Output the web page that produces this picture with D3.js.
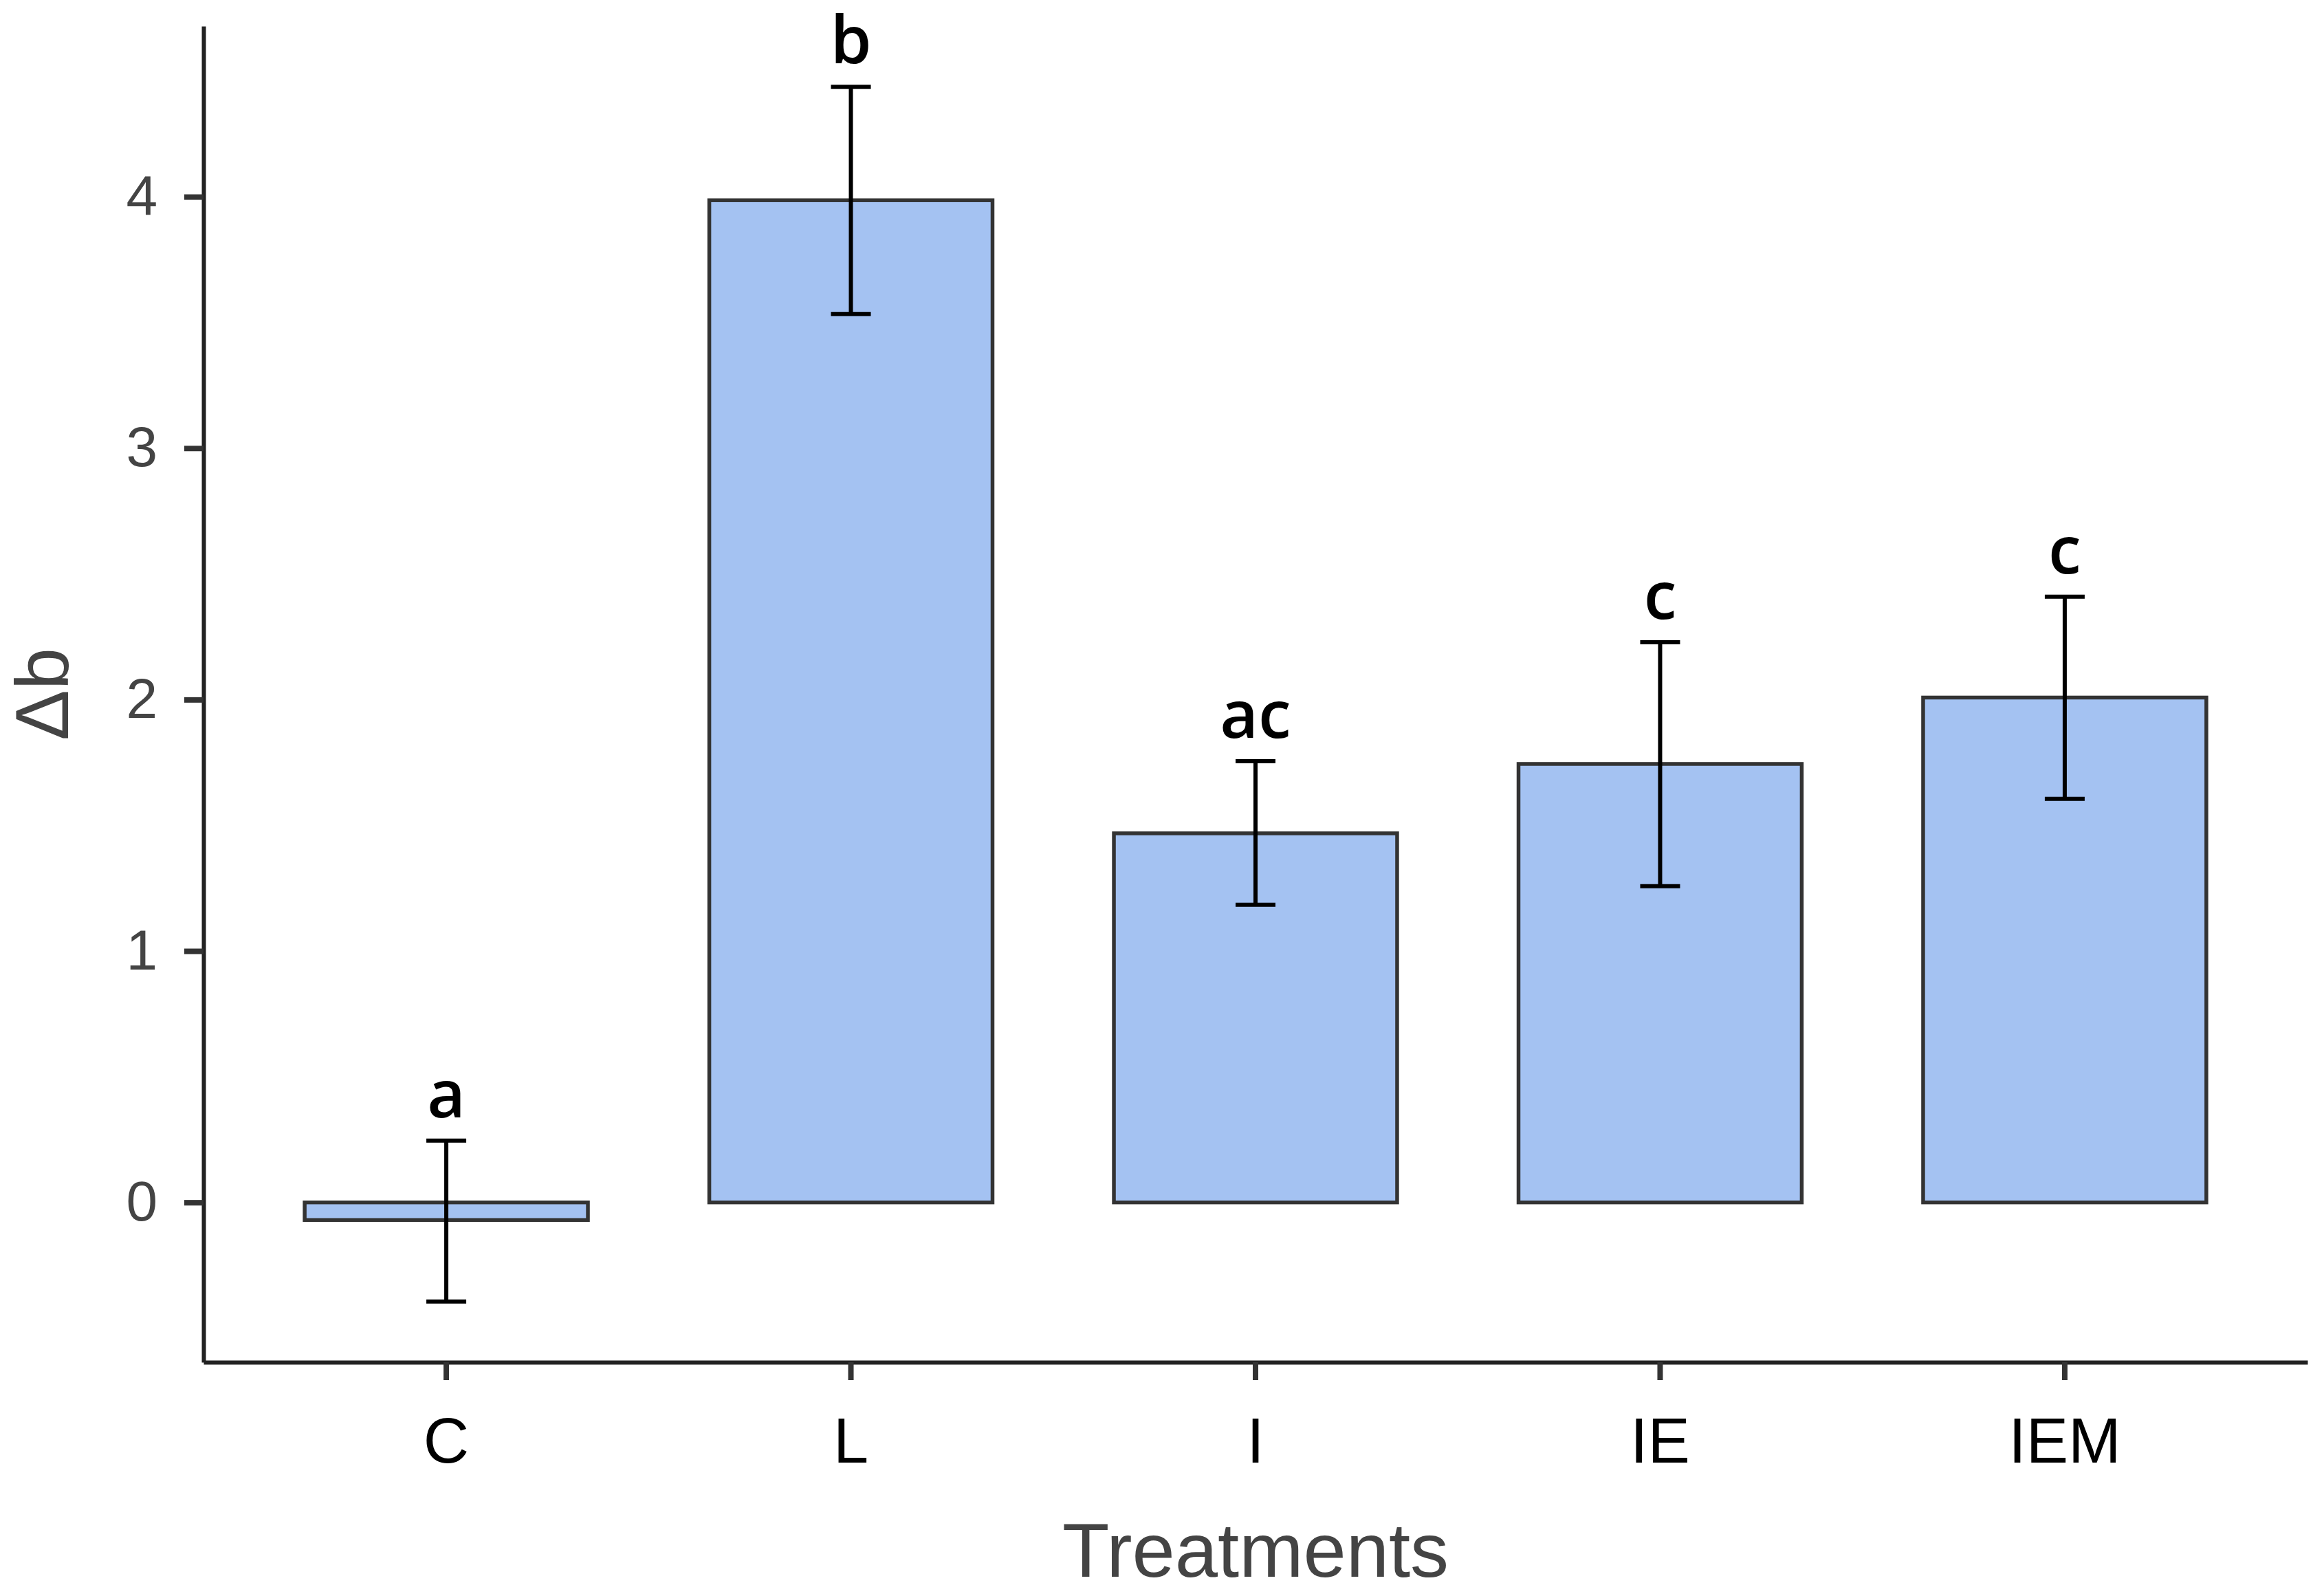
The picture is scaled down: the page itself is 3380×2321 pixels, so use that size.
<!DOCTYPE html>
<html>
<head>
<meta charset="utf-8">
<script src="https://cdn.jsdelivr.net/npm/d3@7"></script>
<style>
  body { margin: 0; background: #fff; }
  svg { display: block; background: #fff; }
</style>
</head>
<body>
<svg width="3380" height="2321"></svg>
<script>
const svg_ = d3.select('svg');

const W = 3380;
const H = 2321;

// data
const treatments = ["C", "L", "I", "IE", "IEM"];
const means  = [-0.07, 3.986, 1.468, 1.744, 2.008];
const lowers = [-0.394, 3.533, 1.184, 1.258, 1.605];
const uppers = [0.246, 4.437, 1.755, 2.228, 2.409];
const letters = ["a", "b", "ac", "c", "c"];
const yTicks = [0, 1, 2, 3, 4];

const DIMS = {
    MARGINS: { TOP: 38, LEFT: 296, RIGHT: 24, BOTTOM: 340 },
    CAP_W: 58
};

const rows = treatments.map((t, i) => ({
    t: t, mean: means[i], lo: lowers[i], hi: uppers[i], lab: letters[i]
}));

// ggplot style 5% expansion of the data range
const lo = d3.min(lowers), hi = d3.max(uppers);
const pad = (hi - lo) * 0.05;

const x = d3.scaleBand()
    .domain(treatments)
    .range([DIMS.MARGINS.LEFT, W - DIMS.MARGINS.RIGHT])
    .paddingInner(0.3)
    .paddingOuter(0.25);

const y = d3.scaleLinear()
    .domain([lo - pad, hi + pad])
    .range([H - DIMS.MARGINS.BOTTOM, DIMS.MARGINS.TOP]);

// bars
svg_.append("g")
    .selectAll("rect")
    .data(rows)
    .join("rect")
    .attr("x", d => x(d.t))
    .attr("width", x.bandwidth())
    .attr("y", d => y(Math.max(0, d.mean)))
    .attr("height", d => Math.abs(y(d.mean) - y(0)))
    .attr("fill", "#a4c2f2")
    .attr("stroke", "#333")
    .attr("stroke-width", 5.5);

// error bars
const eb = svg_.append("g")
    .attr("stroke", "#000")
    .attr("stroke-width", 6)
    .attr("fill", "none")
    .selectAll("g")
    .data(rows)
    .join("g");

eb.append("line")
    .attr("x1", d => x(d.t) + x.bandwidth() / 2)
    .attr("x2", d => x(d.t) + x.bandwidth() / 2)
    .attr("y1", d => y(d.lo))
    .attr("y2", d => y(d.hi));

eb.selectAll("line.cap")
    .data(d => [d.lo, d.hi].map(v => ({ t: d.t, v: v })))
    .join("line")
    .classed("cap", true)
    .attr("x1", d => x(d.t) + x.bandwidth() / 2 - DIMS.CAP_W / 2)
    .attr("x2", d => x(d.t) + x.bandwidth() / 2 + DIMS.CAP_W / 2)
    .attr("y1", d => y(d.v))
    .attr("y2", d => y(d.v));

// significance letters
svg_.append("g")
    .selectAll("text")
    .data(rows)
    .join("text")
    .attr("x", d => x(d.t) + x.bandwidth() / 2)
    .attr("y", d => y(d.hi) - 34)
    .attr("text-anchor", "middle")
    .style("font-family", "'Open Sans', Lato, sans-serif")
    .style("font-size", "96px")
    .style("font-weight", 600)
    .attr("fill", "#000")
    .text(d => d.lab);

// axes
const yAxis = svg_.append("g")
    .attr("transform", `translate(${DIMS.MARGINS.LEFT},0)`)
    .call(d3.axisLeft(y).tickValues(yTicks).tickFormat(d3.format("d"))
        .tickSize(28).tickSizeOuter(0).tickPadding(39));

const xAxis = svg_.append("g")
    .attr("transform", `translate(0,${H - DIMS.MARGINS.BOTTOM})`)
    .call(d3.axisBottom(x).tickSize(26).tickSizeOuter(0).tickPadding(55));

[yAxis, xAxis].forEach(a => {
    a.select(".domain").attr("stroke", "#222").attr("stroke-width", 6);
    a.selectAll(".tick line").attr("stroke", "#333").attr("stroke-width", 8);
});

yAxis.selectAll(".tick text")
    .style("font-family", "'Liberation Sans', Arial, sans-serif")
    .style("font-size", "82px")
    .attr("fill", "#444");

xAxis.selectAll(".tick text")
    .style("font-family", "'Liberation Sans', Arial, sans-serif")
    .style("font-size", "92px")
    .attr("fill", "#000");

// axis titles
svg_.append("text")
    .attr("x", (DIMS.MARGINS.LEFT + W - DIMS.MARGINS.RIGHT) / 2)
    .attr("y", 2293)
    .attr("text-anchor", "middle")
    .style("font-family", "'Liberation Sans', Arial, sans-serif")
    .style("font-size", "112px")
    .attr("fill", "#444")
    .text("Treatments");

svg_.append("text")
    .attr("transform", `translate(99,${(y.range()[0] + y.range()[1]) / 2}) rotate(-90)`)
    .attr("text-anchor", "middle")
    .style("font-family", "'Liberation Sans', Arial, sans-serif")
    .style("font-size", "110px")
    .attr("fill", "#444")
    .text("Δb");
</script>
</body>
</html>
